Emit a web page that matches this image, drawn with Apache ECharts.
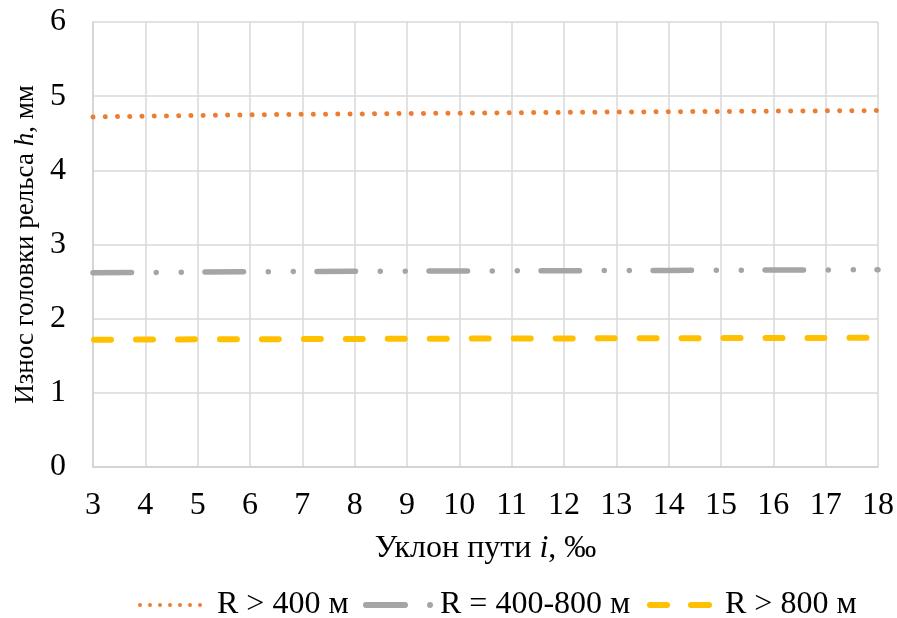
<!DOCTYPE html>
<html>
<head>
<meta charset="utf-8">
<script src="https://cdn.jsdelivr.net/npm/echarts@6/dist/echarts.min.js"></script>
<style>
  html, body { margin: 0; padding: 0; background: #fff; }
  #chart { width: 897px; height: 618px; }
</style>
</head>
<body>
<div id="chart"></div>
<script>
// Track gradient, per mille
const slopes = [3, 4, 5, 6, 7, 8, 9, 10, 11, 12, 13, 14, 15, 16, 17, 18];

// Rail head wear, mm, for three curve-radius groups
const wearR400 = [4.72, 4.73, 4.74, 4.748, 4.755, 4.76, 4.766, 4.771, 4.776, 4.781, 4.786, 4.79, 4.794, 4.798, 4.802, 4.806];
const wearR400_800 = [2.618, 2.623, 2.628, 2.632, 2.635, 2.638, 2.641, 2.643, 2.645, 2.647, 2.649, 2.651, 2.653, 2.655, 2.657, 2.659];
const wearR800 = [1.716, 1.719, 1.721, 1.723, 1.725, 1.727, 1.729, 1.731, 1.732, 1.734, 1.735, 1.737, 1.738, 1.74, 1.741, 1.743];

const seriesNames = ['R > 400 м', 'R = 400-800 м', 'R > 800 м'];
const yTicks = [0, 1, 2, 3, 4, 5, 6];

const FONT = '"Liberation Serif", "Times New Roman", serif';
const COLORS = ['#ed7d31', '#a5a5a5', '#ffc000'];

function pairs(ys) { return slopes.map((x, i) => [x, ys[i]]); }

// Legend glyphs that echo each series' dash pattern
function dotsIcon(n, step, r) {
  let d = '';
  for (let k = 0; k < n; k++) {
    const cx = r + k * step;
    d += `M${cx - r},${r} A${r},${r} 0 1,0 ${cx + r},${r} A${r},${r} 0 1,0 ${cx - r},${r} Z `;
  }
  return 'path://' + d;
}
function pillPath(x0, x1, r) {
  return `M${x0 + r},0 L${x1 - r},0 A${r},${r} 0 0,1 ${x1 - r},${2 * r} L${x0 + r},${2 * r} A${r},${r} 0 0,1 ${x0 + r},0 Z `;
}
function circlePath(cx, r) {
  return `M${cx - r},${r} A${r},${r} 0 1,0 ${cx + r},${r} A${r},${r} 0 1,0 ${cx - r},${r} Z `;
}
const iconOrange = dotsIcon(7, 10, 2);
const iconGray = 'path://' + pillPath(0, 45, 3) + circlePath(67, 3);
const iconYellow = 'path://' + pillPath(0, 23, 3) + pillPath(41, 65, 3);

function legendBlock(name, icon, left, w, h, pad) {
  return {
    data: [{ name: name, icon: icon }],
    left: left,
    top: 589,
    padding: 0,
    itemWidth: w,
    itemHeight: h,
    textStyle: { fontFamily: FONT, fontSize: 32, color: '#000', padding: [0, 0, 0, pad] }
  };
}

const chart = echarts.init(document.getElementById('chart'), null, { renderer: 'canvas' });

chart.setOption({
  animation: false,
  backgroundColor: '#ffffff',
  textStyle: { fontFamily: FONT, color: '#000' },
  grid: { left: 93, right: 19, top: 22, bottom: 151, containLabel: false },
  xAxis: {
    type: 'value',
    min: 3, max: 18, interval: 1,
    name: '{t|Уклон пути }{i|i}{t|, ‰}',
    nameLocation: 'middle',
    nameGap: 66,
    nameTextStyle: {
      rich: {
        t: { fontFamily: FONT, fontSize: 32, color: '#000' },
        i: { fontFamily: FONT, fontSize: 32, fontStyle: 'italic', color: '#000' }
      }
    },
    axisLine: { show: true, lineStyle: { color: '#d0d0d0', width: 1.5 } },
    axisTick: { show: false },
    axisLabel: { fontFamily: FONT, fontSize: 32, color: '#000', margin: 23 },
    splitLine: { show: true, lineStyle: { color: '#d9d9d9', width: 1.5 } }
  },
  yAxis: {
    type: 'value',
    min: yTicks[0], max: yTicks[yTicks.length - 1], interval: 1,
    name: '{t|Износ головки рельса }{i|h}{t|, мм}',
    nameLocation: 'middle',
    nameGap: 54,
    nameRotate: 90,
    nameTextStyle: {
      rich: {
        t: { fontFamily: FONT, fontSize: 27, color: '#000' },
        i: { fontFamily: FONT, fontSize: 27, fontStyle: 'italic', color: '#000' }
      }
    },
    axisLine: { show: true, lineStyle: { color: '#d0d0d0', width: 1.5 } },
    axisTick: { show: false },
    axisLabel: { fontFamily: FONT, fontSize: 32, color: '#000', margin: 27 },
    splitLine: { show: true, lineStyle: { color: '#d9d9d9', width: 1.5 } }
  },
  legend: [
    legendBlock(seriesNames[0], iconOrange, 138, 64, 4, 10),
    legendBlock(seriesNames[1], iconGray, 363, 70, 6, 2),
    legendBlock(seriesNames[2], iconYellow, 647, 65, 6, 8)
  ],
  series: [
    {
      name: seriesNames[0],
      type: 'line',
      data: pairs(wearR400),
      showSymbol: false,
      symbol: 'none',
      color: COLORS[0],
      lineStyle: { color: COLORS[0], width: 5, type: [0.01, 12.23], cap: 'round' }
    },
    {
      name: seriesNames[1],
      type: 'line',
      data: pairs(wearR400_800),
      showSymbol: false,
      symbol: 'none',
      color: COLORS[1],
      lineStyle: { color: COLORS[1], width: 5.5, type: [38.5, 24.75, 0.01, 25, 0.01, 23.74], cap: 'round' }
    },
    {
      name: seriesNames[2],
      type: 'line',
      data: pairs(wearR800),
      showSymbol: false,
      symbol: 'none',
      color: COLORS[2],
      lineStyle: { color: COLORS[2], width: 6, type: [17, 24.97], dashOffset: -1, cap: 'round' }
    }
  ]
});
</script>
</body>
</html>
